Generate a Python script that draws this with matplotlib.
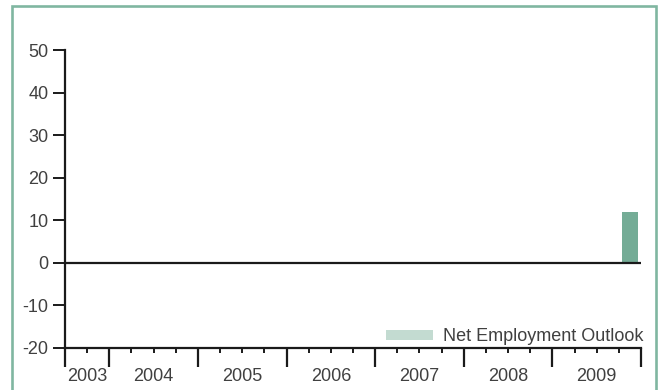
import matplotlib
matplotlib.use("Agg")
import matplotlib.pyplot as plt
from matplotlib.patches import Patch, Rectangle
from matplotlib.transforms import blended_transform_factory

# quarters shown on the x axis (2003 Q3 .. 2009 Q4)
periods = ["2003Q3", "2003Q4"] + [f"{y}Q{q}" for y in range(2004, 2010) for q in range(1, 5)]
years = [2003, 2004, 2005, 2006, 2007, 2008, 2009]

# the only reported value
bar_periods = ["2009Q4"]
bar_values = [12]
series_name = "Net Employment Outlook"

bar_color = "#74ac96"
legend_color = "#c3dbd1"
frame_color = "#80b6a1"
text_color = "#404040"

plt.rcParams["font.family"] = ["Liberation Sans", "DejaVu Sans"]
plt.rcParams["axes.unicode_minus"] = False

fig = plt.figure(figsize=(6.6, 3.9), dpi=100)
ax = fig.add_axes([65 / 660, 1 - 347.7 / 390, 576 / 660, (347.7 - 50.2) / 390])

# green frame around the chart
fig.patches.append(Rectangle((12 / 660, -0.05), 644 / 660, 1.05 - 6 / 390,
                             transform=fig.transFigure, fill=False,
                             edgecolor=frame_color, linewidth=1.9))

xs = [periods.index(p) + 0.5 for p in bar_periods]
ax.bar(xs, bar_values, width=0.72, color=bar_color, zorder=2)
ax.axhline(0, color="#1a1a1a", linewidth=1.6, zorder=3)

ax.set_xlim(0, len(periods))
ax.set_ylim(-20, 50)
ax.set_yticks(range(-20, 51, 10))
ax.tick_params(axis="y", length=8.5, width=1.4, color="#1a1a1a",
               labelsize=13, labelcolor=text_color, pad=3.5)

# long ticks on year boundaries, short ticks on quarters
year_of = [int(p[:4]) for p in periods]
bounds = [0] + [i for i in range(1, len(periods)) if year_of[i] != year_of[i - 1]] + [len(periods)]
ax.set_xticks(bounds)
ax.set_xticklabels([])
ax.set_xticks([i for i in range(len(periods)) if i not in bounds], minor=True)
ax.tick_params(axis="x", which="major", length=13.5, width=1.6, color="#1a1a1a")
ax.tick_params(axis="x", which="minor", length=3.5, width=1.4, color="#1a1a1a")

trans = blended_transform_factory(ax.transData, ax.transAxes)
for y in years:
    idx = [i for i, yy in enumerate(year_of) if yy == y]
    cx = (idx[0] + idx[-1] + 1) / 2
    ax.text(cx, -0.068, str(y), transform=trans, ha="center", va="top",
            fontsize=13, color=text_color)

for side in ["top", "right"]:
    ax.spines[side].set_visible(False)
for side in ["left", "bottom"]:
    ax.spines[side].set_linewidth(1.6)
    ax.spines[side].set_color("#1a1a1a")

ax.legend(handles=[Patch(facecolor=legend_color, label=series_name)],
          loc="lower right", bbox_to_anchor=(1.004, 0.008), frameon=False,
          fontsize=13, labelcolor=text_color, borderpad=0, borderaxespad=0,
          handlelength=2.6, handleheight=0.5, handletextpad=0.55)

fig.savefig("out.png", dpi=100)
